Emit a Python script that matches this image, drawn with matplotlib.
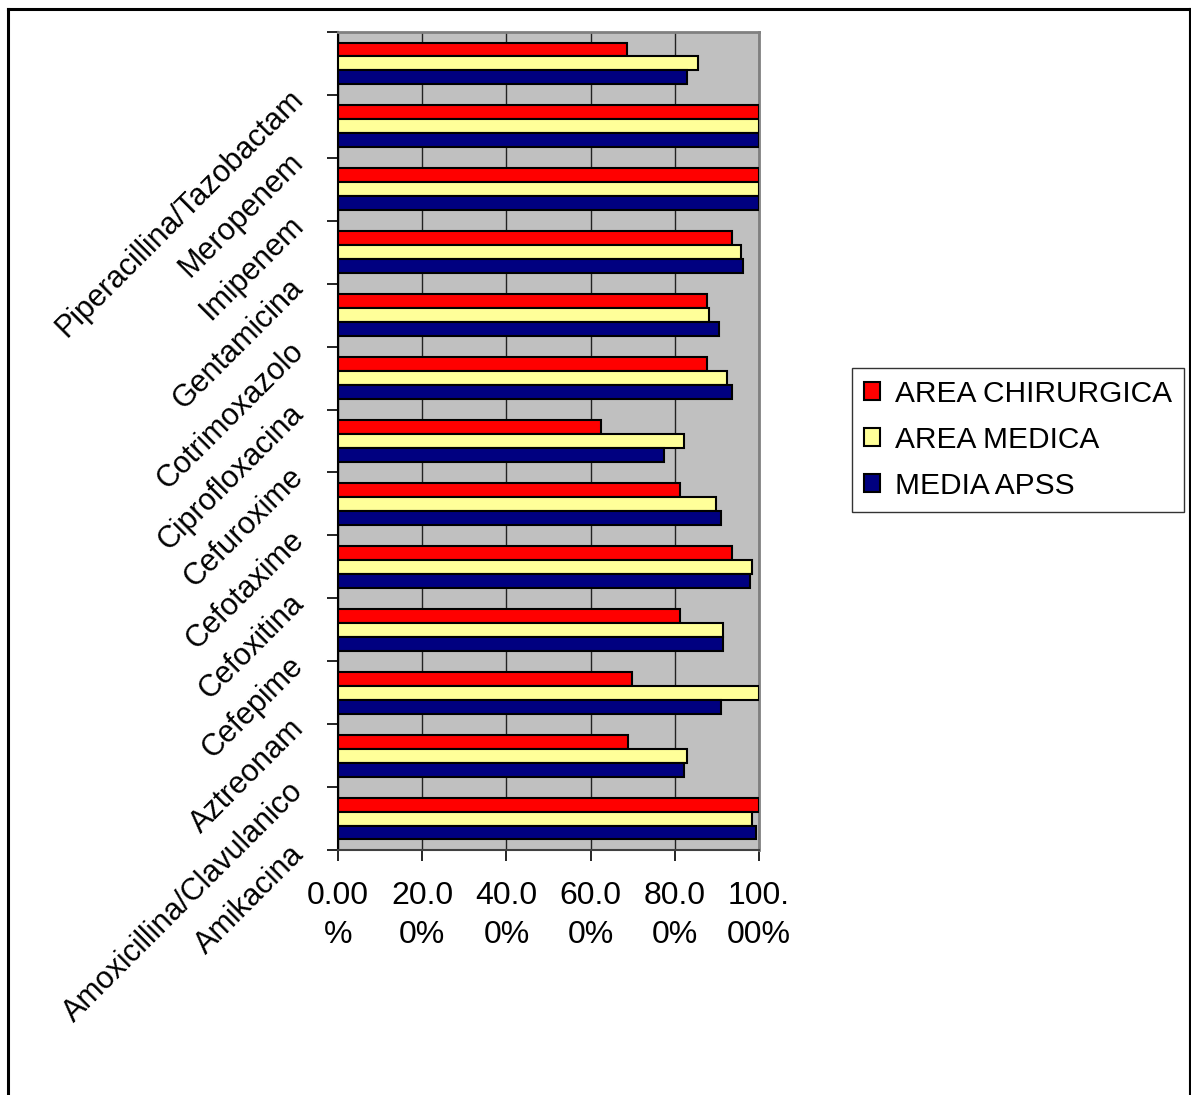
import matplotlib.pyplot as plt
import numpy as np
from matplotlib.lines import Line2D

plt.rcParams['font.family'] = ['Liberation Sans', 'DejaVu Sans']

# categories, bottom to top
categories = ['Amikacina', 'Amoxicillina/Clavulanico', 'Aztreonam', 'Cefepime',
              'Cefoxitina', 'Cefotaxime', 'Cefuroxime', 'Ciprofloxacina',
              'Cotrimoxazolo', 'Gentamicina', 'Imipenem', 'Meropenem',
              'Piperacillina/Tazobactam']
chirurgica = [1.000, 0.688, 0.699, 0.812, 0.937, 0.812, 0.624, 0.876, 0.876, 0.936, 1.000, 1.000, 0.687]
medica = [0.984, 0.828, 1.000, 0.914, 0.984, 0.898, 0.822, 0.925, 0.881, 0.957, 1.000, 1.000, 0.855]
apss = [0.994, 0.823, 0.910, 0.914, 0.979, 0.910, 0.775, 0.937, 0.905, 0.963, 1.000, 1.000, 0.829]
series_names = ['AREA CHIRURGICA', 'AREA MEDICA', 'MEDIA APSS']
xtick_labels = ['0.00\n%', '20.0\n0%', '40.0\n0%', '60.0\n0%', '80.0\n0%', '100.\n00%']

W, H = 1191, 1095
fig = plt.figure(figsize=(W / 100, H / 100), dpi=100)
ax = fig.add_axes([338 / W, 1 - 850 / H, (759 - 338) / W, (850 - 32) / H])
ax.set_facecolor('#C0C0C0')

y = np.arange(len(categories))
bh = 0.222
colors = ['#FF0000', '#FFFF99', '#000080']
for k, (vals, col, name) in enumerate(zip([chirurgica, medica, apss], colors, series_names)):
    ax.barh(y + (1 - k) * bh, vals, height=bh, color=col, edgecolor='black',
            linewidth=1.5, label=name, zorder=3)

ax.set_xlim(0, 1)
ax.set_ylim(-0.5, len(categories) - 0.5)
ax.set_xticks(np.linspace(0, 1, 6))
ax.set_xticklabels(xtick_labels, fontsize=23, linespacing=1.4)
ax.xaxis.grid(True, color='#222222', linewidth=1.0, zorder=1)
ax.set_axisbelow(True)

ax.set_yticks(np.arange(-0.5, len(categories)))
ax.set_yticklabels(categories + [''], fontsize=22, rotation=45,
                   ha='right', va='center', rotation_mode='anchor')
ax.tick_params(axis='y', length=8, width=1.2, pad=20, direction='out')
ax.tick_params(axis='x', length=8, width=1.2, pad=14, direction='out')

for s in ['top', 'right']:
    ax.spines[s].set_color('#808080')
    ax.spines[s].set_linewidth(2)
ax.spines['left'].set_color('black')
ax.spines['left'].set_linewidth(1.5)
ax.spines['bottom'].set_color('#404040')
ax.spines['bottom'].set_linewidth(1.5)

fig.legend(loc='upper left', bbox_to_anchor=(852 / W, 1 - 368 / H),
           fontsize=21.5, frameon=True, fancybox=False, edgecolor='black',
           handlelength=0.55, handleheight=0.55, handletextpad=0.5,
           labelspacing=0.6, borderpad=0.4, borderaxespad=0)
fig.legends[0].get_frame().set_linewidth(1.0)

# outer frame
fig.add_artist(Line2D([8 / W, 1190 / W], [1 - 9 / H, 1 - 9 / H], color='black', linewidth=2.2))
fig.add_artist(Line2D([8 / W, 8 / W], [0, 1 - 9 / H], color='black', linewidth=2.2))
fig.add_artist(Line2D([1189.5 / W, 1189.5 / W], [0, 1 - 9 / H], color='black', linewidth=1.5))

fig.savefig('out.png', dpi=100)
